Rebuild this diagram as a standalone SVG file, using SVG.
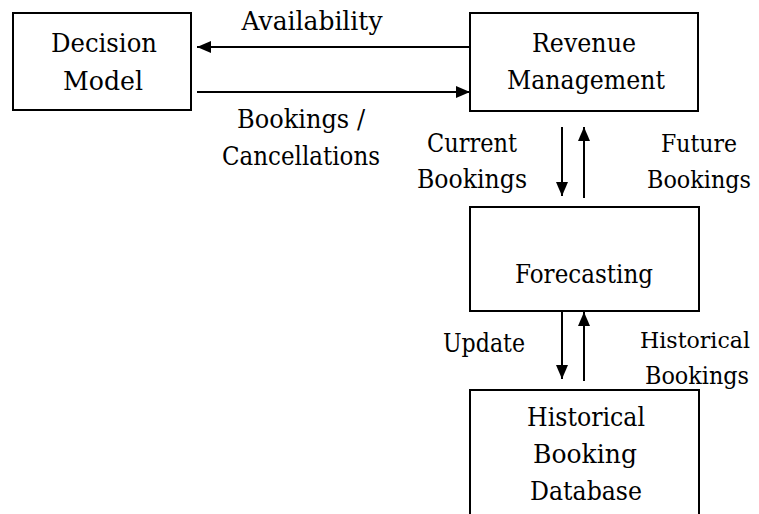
<svg xmlns="http://www.w3.org/2000/svg" width="759" height="514" viewBox="0 0 759 514">
  <style>
    .box { fill: #ffffff; stroke: #000000; stroke-width: 2; }
    .t { font-family: "DejaVu Serif", "Liberation Serif", serif; font-size: 26px; fill: #000000; text-anchor: middle; }
    .r { font-size: 24px; }
    .rs { font-size: 23px; }
    .edge { stroke: #000000; stroke-width: 2; fill: none; marker-end: url(#arrow); }
  </style>
  <defs>
    <marker id="arrow" markerUnits="userSpaceOnUse" markerWidth="16" markerHeight="12" refX="14" refY="6" orient="auto">
      <path d="M0,0 L14,6 L0,12 Z" fill="#000000"/>
    </marker>
  </defs>
  <rect width="759" height="514" fill="#ffffff"/>

  <g id="decision-model">
    <rect class="box" x="13" y="13" width="178" height="97"/>
    <text class="t" x="104" y="52" textLength="106" lengthAdjust="spacingAndGlyphs">Decision</text>
    <text class="t" x="103" y="90" textLength="80" lengthAdjust="spacingAndGlyphs">Model</text>
  </g>

  <g id="revenue-management">
    <rect class="box" x="470" y="13" width="228" height="98"/>
    <text class="t" x="584" y="52" textLength="104" lengthAdjust="spacingAndGlyphs">Revenue</text>
    <text class="t" x="586" y="89" textLength="158" lengthAdjust="spacingAndGlyphs">Management</text>
  </g>

  <g id="forecasting">
    <rect class="box" x="470" y="207" width="229" height="104"/>
    <text class="t" x="584" y="283" textLength="138" lengthAdjust="spacingAndGlyphs">Forecasting</text>
  </g>

  <g id="historical-booking-database">
    <rect class="box" x="470" y="390" width="229" height="140"/>
    <text class="t" x="586" y="426" textLength="118" lengthAdjust="spacingAndGlyphs">Historical</text>
    <text class="t" x="585" y="463" textLength="104" lengthAdjust="spacingAndGlyphs">Booking</text>
    <text class="t" x="586" y="500" textLength="112" lengthAdjust="spacingAndGlyphs">Database</text>
  </g>

  <g id="connectors">
    <line class="edge" x1="470" y1="47" x2="197" y2="47"/>
    <line class="edge" x1="197" y1="92" x2="470" y2="92"/>
    <line class="edge" x1="562" y1="127" x2="562" y2="196"/>
    <line class="edge" x1="584" y1="198" x2="584" y2="127"/>
    <line class="edge" x1="562" y1="311" x2="562" y2="379"/>
    <line class="edge" x1="584" y1="381" x2="584" y2="312"/>
  </g>

  <g id="labels">
    <text class="t" x="312" y="30" textLength="141" lengthAdjust="spacingAndGlyphs">Availability</text>
    <text class="t" x="301" y="128" textLength="128" lengthAdjust="spacingAndGlyphs">Bookings /</text>
    <text class="t" x="301" y="165" textLength="158" lengthAdjust="spacingAndGlyphs">Cancellations</text>
    <text class="t" x="472" y="152" textLength="90" lengthAdjust="spacingAndGlyphs">Current</text>
    <text class="t" x="472" y="188" textLength="110" lengthAdjust="spacingAndGlyphs">Bookings</text>
    <text class="t r" x="699" y="152" textLength="76" lengthAdjust="spacingAndGlyphs">Future</text>
    <text class="t r" x="699" y="188" textLength="104" lengthAdjust="spacingAndGlyphs">Bookings</text>
    <text class="t" x="484" y="352" textLength="82" lengthAdjust="spacingAndGlyphs">Update</text>
    <text class="t rs" x="695" y="348" textLength="110" lengthAdjust="spacingAndGlyphs">Historical</text>
    <text class="t r" x="697" y="384" textLength="104" lengthAdjust="spacingAndGlyphs">Bookings</text>
  </g>
</svg>
